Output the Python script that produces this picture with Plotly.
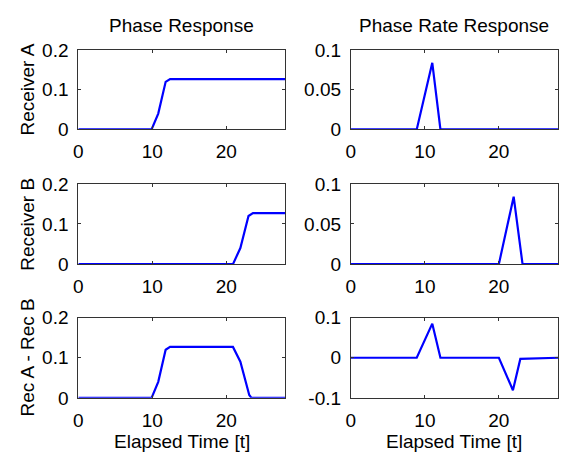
import plotly.graph_objects as go

# ---- data ----
t_phase_a = [0, 9.9, 10.8, 11.8, 12.4, 28]
phase_a = [0, 0, 0.04, 0.12, 0.127, 0.127]

t_rate_a = [0, 8.9, 11.0, 12.1, 28]
rate_a = [0, 0, 0.084, 0, 0]

t_phase_b = [0, 20.9, 21.9, 23.0, 23.6, 28]
phase_b = [0, 0, 0.04, 0.12, 0.127, 0.127]

t_rate_b = [0, 20.0, 22.0, 23.2, 28]
rate_b = [0, 0, 0.084, 0, 0]

t_phase_d = [0, 9.9, 10.8, 11.8, 12.4, 20.9, 21.9, 23.1, 23.4, 28]
phase_d = [0, 0, 0.04, 0.12, 0.127, 0.127, 0.09, 0.007, 0, 0]

t_rate_d = [0, 8.9, 11.0, 12.1, 20.0, 21.9, 22.9, 28]
rate_d = [0, 0, 0.085, 0, 0, -0.081, -0.003, 0]

x_ticks = [0, 10, 20]
left_yticks = [0, 0.1, 0.2]
left_ylabels = ["0", "0.1", "0.2"]
right_yticks = [0, 0.05, 0.1]
right_ylabels = ["0", "0.05", "0.1"]
diff_yticks = [-0.1, 0, 0.1]
diff_ylabels = ["-0.1", "0", "0.1"]

col_titles = ["Phase Response", "Phase Rate Response"]
row_titles = ["Receiver A", "Receiver B", "Rec A - Rec B"]
x_title = "Elapsed Time [t]"

W, H = 564, 470
FONT = "Liberation Sans, Arial, Helvetica, sans-serif"
FS = 19

def px_x(p):
    return p / W

def px_y(p):
    return 1 - p / H

col_dom = [(74, 283), (349, 558)]
row_dom = [(42, 125), (182, 266), (322, 406)]

series = [
    (t_phase_a, phase_a, 0, 0, [0, 0.2], left_yticks, left_ylabels),
    (t_rate_a, rate_a, 0, 1, [0, 0.1], right_yticks, right_ylabels),
    (t_phase_b, phase_b, 1, 0, [0, 0.2], left_yticks, left_ylabels),
    (t_rate_b, rate_b, 1, 1, [0, 0.1], right_yticks, right_ylabels),
    (t_phase_d, phase_d, 2, 0, [0, 0.2], left_yticks, left_ylabels),
    (t_rate_d, rate_d, 2, 1, [-0.1, 0.1], diff_yticks, diff_ylabels),
]

fig = go.Figure()
layout = {}
for i, (tx, ty, r, c, yr, ytv, ytt) in enumerate(series):
    n = i + 1
    xa = "x" if n == 1 else f"x{n}"
    ya = "y" if n == 1 else f"y{n}"
    fig.add_trace(go.Scatter(x=tx, y=ty, mode="lines", xaxis=xa, yaxis=ya,
                             line=dict(color="#0000ff", width=2.2),
                             showlegend=False, hoverinfo="skip"))
    axcommon = dict(showline=True, linecolor="#333333", linewidth=1,
                    mirror="ticks", ticks="inside", ticklen=3, tickcolor="#333333",
                    showgrid=False, zeroline=False,
                    tickfont=dict(family=FONT, size=FS, color="black"),
                    ticklabelstandoff=5)
    layout["xaxis" if n == 1 else f"xaxis{n}"] = dict(
        axcommon, domain=[px_x(col_dom[c][0]), px_x(col_dom[c][1])],
        range=[0, 28], tickvals=x_ticks, anchor=ya)
    layout["yaxis" if n == 1 else f"yaxis{n}"] = dict(
        axcommon, domain=[px_y(row_dom[r][1]), px_y(row_dom[r][0])],
        range=yr, tickvals=ytv, ticktext=ytt, anchor=xa)

fig.update_layout(**layout)

ann = []
for c, t in enumerate(col_titles):
    ann.append(dict(text=t, x=px_x((col_dom[c][0] + col_dom[c][1]) / 2), y=px_y(16),
                    xref="paper", yref="paper", xanchor="center", yanchor="middle",
                    showarrow=False, font=dict(family=FONT, size=FS, color="black")))
    ann.append(dict(text=x_title, x=px_x((col_dom[c][0] + col_dom[c][1]) / 2), y=px_y(452),
                    xref="paper", yref="paper", xanchor="center", yanchor="middle",
                    showarrow=False, font=dict(family=FONT, size=FS, color="black")))
for r, t in enumerate(row_titles):
    ann.append(dict(text=t, x=px_x(23), y=px_y((row_dom[r][0] + row_dom[r][1]) / 2),
                    xref="paper", yref="paper", xanchor="center", yanchor="middle",
                    textangle=-90, showarrow=False,
                    font=dict(family=FONT, size=FS, color="black")))

fig.update_layout(width=W, height=H, margin=dict(l=0, r=0, t=0, b=0),
                  paper_bgcolor="white", plot_bgcolor="white", annotations=ann)

fig.write_html("out.html", config={"displayModeBar": False},
               post_script="document.body.style.margin='0px';document.body.style.overflow='hidden';")
